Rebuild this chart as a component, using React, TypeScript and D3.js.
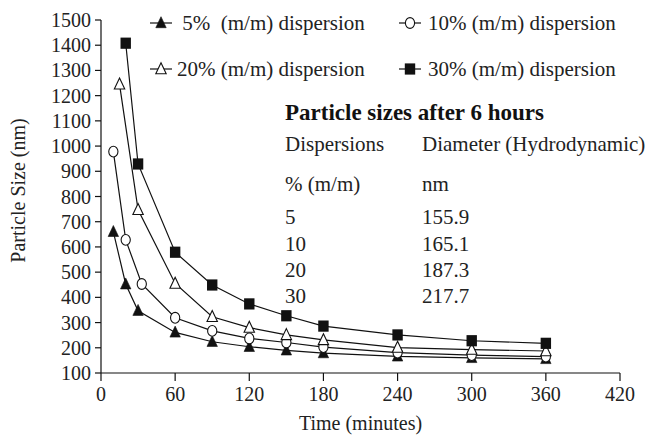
import React from "react";
import * as d3 from "d3";

// Sampling times (minutes) and measured particle sizes (nm) per dispersion
const times5 = [10, 20, 30, 60, 90, 120, 150, 180, 240, 300, 360];
const size5 = [660, 452, 347, 261, 224, 204, 190, 179, 166, 160, 155.9];

const times10 = [10, 20, 33, 60, 90, 120, 150, 180, 240, 300, 360];
const size10 = [978, 628, 453, 319, 267, 237, 221, 203, 181, 171, 165.1];

const times20 = [15, 30, 60, 90, 120, 150, 180, 240, 300, 360];
const size20 = [1245, 747, 455, 323, 280, 251, 231, 201, 193, 187.3];

const times30 = [20, 30, 60, 90, 120, 150, 180, 240, 300, 360];
const size30 = [1408, 929, 579, 449, 374, 327, 286, 251, 228, 217.7];

const legendLabels = [
  " 5%  (m/m) dispersion",
  "10% (m/m) dispersion",
  "20% (m/m) dispersion",
  "30% (m/m) dispersion",
];

const xTicks = [0, 60, 120, 180, 240, 300, 360, 420];
const yTicks = [100, 200, 300, 400, 500, 600, 700, 800, 900, 1000, 1100, 1200, 1300, 1400, 1500];

const tableTitle = "Particle sizes after 6 hours";
const tableHeader1 = ["Dispersions", "Diameter (Hydrodynamic)"];
const tableHeader2 = ["% (m/m)", "nm"];
const tableConc = ["5", "10", "20", "30"];
const tableDiam = ["155.9", "165.1", "187.3", "217.7"];

type MarkerKind = "triFilled" | "circleOpen" | "triOpen" | "squareFilled";

const series: { times: number[]; sizes: number[]; marker: MarkerKind }[] = [
  { times: times5, sizes: size5, marker: "triFilled" },
  { times: times10, sizes: size10, marker: "circleOpen" },
  { times: times20, sizes: size20, marker: "triOpen" },
  { times: times30, sizes: size30, marker: "squareFilled" },
];

const FONT = "'Liberation Serif', 'Times New Roman', serif";

function Marker({ kind, x, y }: { kind: MarkerKind; x: number; y: number }) {
  if (kind === "circleOpen") {
    return <ellipse cx={x} cy={y} rx={4.6} ry={5.4} fill="#fff" stroke="#111" strokeWidth={1.1} />;
  }
  if (kind === "squareFilled") {
    return <rect x={x - 5.2} y={y - 5.6} width={10.4} height={11.2} fill="#111" />;
  }
  const path = `M${x},${y - 6.3}L${x + 5.2},${y + 4.7}L${x - 5.2},${y + 4.7}Z`;
  if (kind === "triFilled") {
    return <path d={path} fill="#111" stroke="#111" strokeWidth={0.6} />;
  }
  return <path d={path} fill="#fff" stroke="#111" strokeWidth={1.1} strokeLinejoin="miter" />;
}

export default function App() {
  const width = 650;
  const height = 437;
  const left = 101;
  const right = 620;
  const top = 20;
  const bottom = 373;

  const x = d3.scaleLinear().domain([0, 420]).range([left, right]);
  const y = d3.scaleLinear().domain([100, 1500]).range([bottom, top]);

  const line = d3
    .line<[number, number]>()
    .x((d) => x(d[0]))
    .y((d) => y(d[1]));

  const legendPos = [
    { mx: 161, my: 23, tx: 177 },
    { mx: 410, my: 23, tx: 428 },
    { mx: 161, my: 69, tx: 177 },
    { mx: 410, my: 69, tx: 428 },
  ];

  const tableX1 = 285;
  const tableX2 = 422;
  const rowY = [224, 251, 277, 303];

  return (
    <svg
      width={width}
      height={height}
      style={{ position: "absolute", left: 0, top: 0, background: "#fff", fontFamily: FONT }}
      fontFamily={FONT}
    >
      <rect x={0} y={0} width={width} height={height} fill="#fff" />

      {/* axes */}
      <line x1={left} x2={left} y1={top} y2={bottom} stroke="#111" strokeWidth={1.2} />
      <line x1={left} x2={right} y1={bottom} y2={bottom} stroke="#111" strokeWidth={1.2} />
      {yTicks.map((t) => (
        <g key={"y" + t}>
          <line x1={left - 6} x2={left} y1={y(t)} y2={y(t)} stroke="#111" strokeWidth={1.2} />
          <text x={left - 10} y={y(t)} dy="0.35em" textAnchor="end" fontSize={20} fill="#222">
            {t}
          </text>
        </g>
      ))}
      {xTicks.map((t) => (
        <g key={"x" + t}>
          <line x1={x(t)} x2={x(t)} y1={bottom} y2={bottom + 8} stroke="#111" strokeWidth={1.2} />
          <text x={x(t)} y={401} textAnchor="middle" fontSize={20} fill="#222">
            {t}
          </text>
        </g>
      ))}
      <text x={x(210)} y={430} textAnchor="middle" fontSize={20} fill="#222">
        Time (minutes)
      </text>
      <text transform={`translate(25,${(top + bottom) / 2 - 6}) rotate(-90)`} textAnchor="middle" fontSize={20} fill="#222">
        Particle Size (nm)
      </text>

      {/* series */}
      {series.map((s, i) => (
        <path
          key={"l" + i}
          d={line(s.times.map((t, j) => [t, s.sizes[j]] as [number, number])) || ""}
          fill="none"
          stroke="#111"
          strokeWidth={1.2}
        />
      ))}
      {series.map((s, i) => (
        <g key={"m" + i}>
          {s.times.map((t, j) => (
            <Marker key={j} kind={s.marker} x={x(t)} y={y(s.sizes[j])} />
          ))}
        </g>
      ))}

      {/* legend */}
      {series.map((s, i) => {
        const p = legendPos[i];
        return (
          <g key={"lg" + i}>
            <line x1={p.mx - 11} x2={p.mx + 11} y1={p.my} y2={p.my} stroke="#111" strokeWidth={1.2} />
            <Marker kind={s.marker} x={p.mx} y={p.my} />
            <text x={p.tx} y={p.my} dy="0.35em" fontSize={21} fill="#222" style={{ whiteSpace: "pre" }}>
              {legendLabels[i]}
            </text>
          </g>
        );
      })}

      {/* summary table */}
      <text x={tableX1} y={120} fontSize={23} fontWeight="bold" fill="#111">
        {tableTitle}
      </text>
      <text x={tableX1} y={151} fontSize={21} fill="#222">
        {tableHeader1[0]}
      </text>
      <text x={tableX2} y={151} fontSize={21} fill="#222">
        {tableHeader1[1]}
      </text>
      <text x={tableX1} y={191} fontSize={21} fill="#222">
        {tableHeader2[0]}
      </text>
      <text x={tableX2} y={191} fontSize={21} fill="#222">
        {tableHeader2[1]}
      </text>
      {tableConc.map((c, i) => (
        <g key={"r" + i}>
          <text x={tableX1} y={rowY[i]} fontSize={21} fill="#222">
            {c}
          </text>
          <text x={tableX2} y={rowY[i]} fontSize={21} fill="#222">
            {tableDiam[i]}
          </text>
        </g>
      ))}
    </svg>
  );
}
